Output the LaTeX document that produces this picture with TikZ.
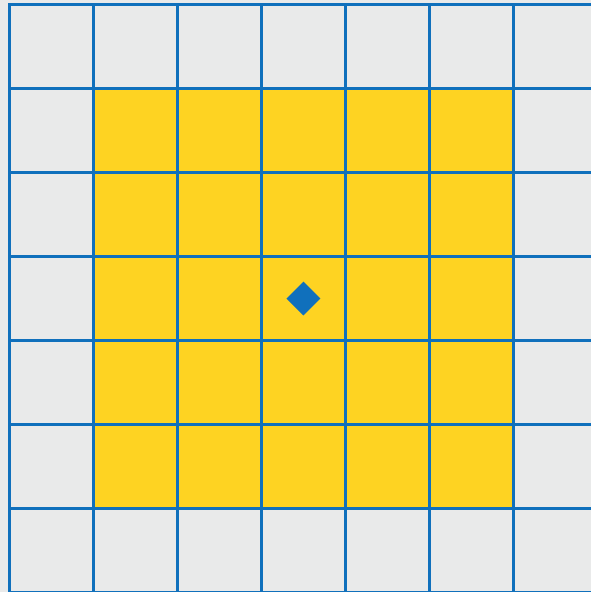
\documentclass[tikz,border=0pt]{standalone}
\usepackage{tikz}
\usetikzlibrary{shapes.geometric}
\definecolor{gridblue}{RGB}{16,112,188}
\definecolor{cellgrey}{RGB}{233,234,234}
\definecolor{cellyellow}{RGB}{254,211,34}
\begin{document}
\begin{tikzpicture}[x=1cm,y=1cm,
cell/.style={fill=cellyellow,draw=none},
gridline/.style={draw=gridblue,line width=.85pt,line cap=rect},
marker/.style={diamond,fill=gridblue,draw=none,inner sep=0pt,minimum width=.41cm,minimum height=.41cm}]
\fill[cellgrey](-.113,.006)rectangle(6.923,7.054);
\useasboundingbox(-.113,.006)rectangle(6.923,7.054);
\clip(-.113,.006)rectangle(6.923,7.054);
\fill[cell](1,1)rectangle(6,6);
\foreach \k in {0,...,7}{
\draw[gridline](\k,7)--(\k,-.5);
\draw[gridline](0,\k)--(7.5,\k);
}
\node[marker] (centre)at(3.5,3.5){};
\end{tikzpicture}
\end{document}
